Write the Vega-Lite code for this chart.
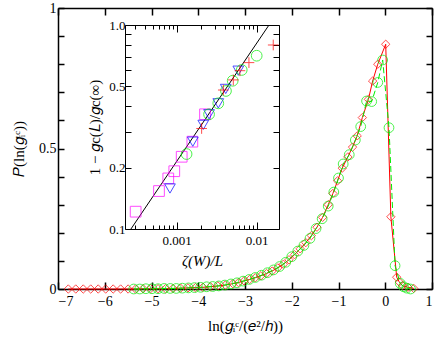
{
  "$schema": "https://vega.github.io/schema/vega-lite/v6.json",
  "width": 374,
  "height": 281,
  "autosize": {"type": "none"},
  "padding": {"left": 58, "top": 8, "right": 4, "bottom": 50},
  "background": "white",
  "config": {
    "view": {"stroke": null},
    "font": "Liberation Serif",
    "axis": {
      "labelFont": "Liberation Serif",
      "titleFont": "Liberation Serif",
      "labelFontSize": 14,
      "titleFontSize": 15,
      "titleFontWeight": "normal",
      "domainColor": "black",
      "tickColor": "black",
      "labelColor": "black",
      "titleColor": "black",
      "grid": false
    }
  },
  "datasets": {
    "main": [
      {"x": -6.78, "P": 0, "s": "r"}, {"x": -6.62, "P": 0, "s": "r"}, {"x": -6.46, "P": 0, "s": "r"}, {"x": -6.30, "P": 0, "s": "r"},
      {"x": -6.14, "P": 0, "s": "r"}, {"x": -5.98, "P": 0, "s": "r"}, {"x": -5.82, "P": 0, "s": "r"}, {"x": -5.66, "P": 0, "s": "r"},
      {"x": -5.50, "P": 0, "s": "r"}, {"x": -5.34, "P": 0, "s": "r"}, {"x": -5.18, "P": 0.001, "s": "r"}, {"x": -5.02, "P": 0.001, "s": "r"},
      {"x": -4.86, "P": 0.001, "s": "r"}, {"x": -4.70, "P": 0.001, "s": "r"}, {"x": -4.54, "P": 0.002, "s": "r"}, {"x": -4.38, "P": 0.003, "s": "r"},
      {"x": -4.22, "P": 0.004, "s": "r"}, {"x": -4.06, "P": 0.005, "s": "r"}, {"x": -3.90, "P": 0.006, "s": "r"}, {"x": -3.74, "P": 0.008, "s": "r"},
      {"x": -3.58, "P": 0.011, "s": "r"}, {"x": -3.42, "P": 0.014, "s": "r"}, {"x": -3.26, "P": 0.019, "s": "r"}, {"x": -3.14, "P": 0.023, "s": "r"},
      {"x": -3.02, "P": 0.029, "s": "r"}, {"x": -2.90, "P": 0.034, "s": "r"}, {"x": -2.78, "P": 0.040, "s": "r"}, {"x": -2.66, "P": 0.047, "s": "r"},
      {"x": -2.54, "P": 0.055, "s": "r"}, {"x": -2.42, "P": 0.064, "s": "r"}, {"x": -2.30, "P": 0.075, "s": "r"}, {"x": -2.18, "P": 0.088, "s": "r"},
      {"x": -2.06, "P": 0.104, "s": "r"}, {"x": -1.94, "P": 0.122, "s": "r"}, {"x": -1.82, "P": 0.143, "s": "r"}, {"x": -1.70, "P": 0.165, "s": "r"},
      {"x": -1.58, "P": 0.19, "s": "r"}, {"x": -1.46, "P": 0.22, "s": "r"}, {"x": -1.34, "P": 0.255, "s": "r"}, {"x": -1.22, "P": 0.30, "s": "r"},
      {"x": -1.12, "P": 0.34, "s": "r"}, {"x": -1.02, "P": 0.385, "s": "r"}, {"x": -0.92, "P": 0.43, "s": "r"}, {"x": -0.80, "P": 0.47, "s": "r"},
      {"x": -0.70, "P": 0.505, "s": "r"}, {"x": -0.60, "P": 0.545, "s": "r"}, {"x": -0.49, "P": 0.61, "s": "r"}, {"x": -0.36, "P": 0.675, "s": "r"},
      {"x": -0.27, "P": 0.74, "s": "r"}, {"x": -0.16, "P": 0.80, "s": "r"}, {"x": 0.01, "P": 0.871, "s": "r"}, {"x": 0.12, "P": 0.257, "s": "r"},
      {"x": 0.245, "P": 0.042, "s": "r"}, {"x": 0.30, "P": 0.025, "s": "r"}, {"x": 0.37, "P": 0.012, "s": "r"}, {"x": 0.49, "P": 0.006, "s": "r"},
      {"x": 0.61, "P": 0.002, "s": "r"},
      {"x": -5.38, "P": 0, "s": "g"}, {"x": -5.25, "P": 0, "s": "g"}, {"x": -5.12, "P": 0.001, "s": "g"}, {"x": -4.99, "P": 0.001, "s": "g"},
      {"x": -4.86, "P": 0.001, "s": "g"}, {"x": -4.73, "P": 0.002, "s": "g"}, {"x": -4.60, "P": 0.002, "s": "g"}, {"x": -4.47, "P": 0.002, "s": "g"},
      {"x": -4.34, "P": 0.003, "s": "g"}, {"x": -4.21, "P": 0.004, "s": "g"}, {"x": -4.08, "P": 0.005, "s": "g"}, {"x": -3.95, "P": 0.006, "s": "g"},
      {"x": -3.82, "P": 0.008, "s": "g"}, {"x": -3.69, "P": 0.009, "s": "g"}, {"x": -3.56, "P": 0.011, "s": "g"}, {"x": -3.43, "P": 0.014, "s": "g"},
      {"x": -3.30, "P": 0.018, "s": "g"}, {"x": -3.17, "P": 0.022, "s": "g"}, {"x": -3.04, "P": 0.028, "s": "g"}, {"x": -2.91, "P": 0.034, "s": "g"},
      {"x": -2.78, "P": 0.041, "s": "g"}, {"x": -2.65, "P": 0.049, "s": "g"}, {"x": -2.52, "P": 0.058, "s": "g"}, {"x": -2.39, "P": 0.068, "s": "g"},
      {"x": -2.26, "P": 0.08, "s": "g"}, {"x": -2.13, "P": 0.095, "s": "g"}, {"x": -2.00, "P": 0.115, "s": "g"}, {"x": -1.87, "P": 0.135, "s": "g"},
      {"x": -1.74, "P": 0.155, "s": "g"}, {"x": -1.61, "P": 0.18, "s": "g"}, {"x": -1.48, "P": 0.215, "s": "g"}, {"x": -1.35, "P": 0.25, "s": "g"},
      {"x": -1.22, "P": 0.295, "s": "g"}, {"x": -1.10, "P": 0.345, "s": "g"}, {"x": -1.00, "P": 0.395, "s": "g"}, {"x": -0.90, "P": 0.445, "s": "g"},
      {"x": -0.77, "P": 0.478, "s": "g"}, {"x": -0.64, "P": 0.53, "s": "g"}, {"x": -0.525, "P": 0.578, "s": "g"}, {"x": -0.40, "P": 0.669, "s": "g"},
      {"x": -0.29, "P": 0.667, "s": "g"}, {"x": -0.16, "P": 0.735, "s": "g"}, {"x": -0.055, "P": 0.815, "s": "g"}, {"x": 0.08, "P": 0.574, "s": "g"},
      {"x": 0.21, "P": 0.083, "s": "g"}, {"x": 0.32, "P": 0.02, "s": "g"}, {"x": 0.39, "P": 0.008, "s": "g"}, {"x": 0.46, "P": 0.003, "s": "g"},
      {"x": 0.54, "P": 0, "s": "g"}
    ],
    "inset": [
      {"z": 0.000307, "v": 0.1216, "set": "sq"}, {"z": 0.000601, "v": 0.1535, "set": "sq"}, {"z": 0.000785, "v": 0.177, "set": "sq"},
      {"z": 0.000933, "v": 0.192, "set": "sq"}, {"z": 0.001155, "v": 0.226, "set": "sq"}, {"z": 0.00157, "v": 0.268, "set": "sq"},
      {"z": 0.00226, "v": 0.365, "set": "sq"},
      {"z": 0.000824, "v": 0.158, "set": "tri"}, {"z": 0.00159, "v": 0.268, "set": "tri"}, {"z": 0.00215, "v": 0.324, "set": "tri"},
      {"z": 0.00254, "v": 0.365, "set": "tri"}, {"z": 0.00331, "v": 0.413, "set": "tri"}, {"z": 0.0041, "v": 0.486, "set": "tri"},
      {"z": 0.00589, "v": 0.597, "set": "tri"},
      {"z": 0.00133, "v": 0.233, "set": "circ"}, {"z": 0.00254, "v": 0.365, "set": "circ"}, {"z": 0.00331, "v": 0.413, "set": "circ"},
      {"z": 0.00413, "v": 0.475, "set": "circ"}, {"z": 0.00501, "v": 0.533, "set": "circ"}, {"z": 0.0065, "v": 0.602, "set": "circ"},
      {"z": 0.01, "v": 0.707, "set": "circ"},
      {"z": 0.00205, "v": 0.311, "set": "plus"}, {"z": 0.00383, "v": 0.48, "set": "plus"}, {"z": 0.0051, "v": 0.538, "set": "plus"},
      {"z": 0.00617, "v": 0.597, "set": "plus"}, {"z": 0.008, "v": 0.654, "set": "plus"}, {"z": 0.0161, "v": 0.798, "set": "plus"}
    ],
    "fit": [
      {"z": 0.000268, "v": 0.1},
      {"z": 0.01425, "v": 1.0}
    ]
  },
  "layer": [
    {
      "layer": [
        {
          "data": {"name": "main"},
          "transform": [{"filter": "datum.s == 'r'"}],
          "mark": {"type": "line", "color": "#ff0000", "strokeWidth": 1},
          "encoding": {
            "x": {
              "field": "x", "type": "quantitative",
              "scale": {"domain": [-7, 1], "nice": false, "zero": false},
              "axis": {
                "orient": "bottom", "values": [-7, -6, -5, -4, -3, -2, -1, 0, 1],
                "tickSize": -7, "tickWidth": 1.5, "domainWidth": 1.5, "labelPadding": 12,
                "title": "ln(𝑔ᵢᶜ/(𝑒²/ℎ))", "titlePadding": 10
              }
            },
            "y": {
              "field": "P", "type": "quantitative",
              "scale": {"domain": [0, 1], "nice": false},
              "axis": {
                "orient": "left", "values": [0, 0.1, 0.2, 0.3, 0.4, 0.5, 0.6, 0.7, 0.8, 0.9, 1],
                "labelExpr": "datum.value == 0 ? '0' : datum.value == 0.5 ? '0.5' : datum.value == 1 ? '1' : ''",
                "tickSize": -6, "tickWidth": 1.5, "domainWidth": 1.5, "labelPadding": 8,
                "title": "𝑃(ln(𝑔ᵢᶜ))", "titlePadding": 12
              }
            }
          }
        },
        {
          "data": {"name": "main"},
          "transform": [{"filter": "datum.s == 'r'"}],
          "mark": {"type": "point", "shape": "diamond", "filled": false, "color": "#ff0000", "size": 70, "strokeWidth": 1},
          "encoding": {
            "x": {"field": "x", "type": "quantitative", "axis": null},
            "y": {"field": "P", "type": "quantitative", "axis": null}
          }
        },
        {
          "data": {"name": "main"},
          "transform": [{"filter": "datum.s == 'g'"}],
          "mark": {"type": "line", "color": "#00ee00", "strokeWidth": 1, "strokeDash": [6, 3]},
          "encoding": {
            "x": {
              "field": "x", "type": "quantitative",
              "axis": {
                "orient": "top", "values": [-7, -6, -5, -4, -3, -2, -1, 0, 1],
                "labels": false, "tickSize": -7, "tickWidth": 1.5, "domainWidth": 1.5, "title": null
              }
            },
            "y": {
              "field": "P", "type": "quantitative",
              "axis": {
                "orient": "right", "values": [0, 0.1, 0.2, 0.3, 0.4, 0.5, 0.6, 0.7, 0.8, 0.9, 1],
                "labels": false, "tickSize": -6, "tickWidth": 1.5, "domainWidth": 1.5, "title": null
              }
            }
          }
        },
        {
          "data": {"name": "main"},
          "transform": [{"filter": "datum.s == 'g'"}],
          "mark": {"type": "point", "shape": "circle", "filled": false, "color": "#00ee00", "size": 95, "strokeWidth": 1},
          "encoding": {
            "x": {"field": "x", "type": "quantitative", "axis": null},
            "y": {"field": "P", "type": "quantitative", "axis": null}
          }
        }
      ],
      "resolve": {"axis": {"x": "independent", "y": "independent"}}
    },
    {
      "layer": [
        {
          "data": {"name": "fit"},
          "mark": {"type": "line", "color": "black", "strokeWidth": 1},
          "encoding": {
            "x": {
              "field": "z", "type": "quantitative",
              "scale": {"type": "log", "domain": [0.000226, 0.019], "range": [67, 221], "nice": false},
              "axis": {
                "orient": "bottom", "offset": -60,
                "values": [0.0003, 0.0004, 0.0005, 0.0006, 0.0007, 0.0008, 0.0009, 0.001, 0.002, 0.003, 0.004, 0.005, 0.006, 0.007, 0.008, 0.009, 0.01],
                "labelExpr": "datum.value == 0.001 ? '0.001' : datum.value == 0.01 ? '0.01' : ''",
                "tickSize": {"condition": {"test": "datum.value == 0.001 || datum.value == 0.01", "value": -7}, "value": -4},
                "labelPadding": 12, "labelFontSize": 13,
                "title": "ζ(W)/L", "titleFontStyle": "italic", "titlePadding": 6
              }
            },
            "y": {
              "field": "v", "type": "quantitative",
              "scale": {"type": "log", "domain": [0.1, 1], "range": [221, 17], "nice": false},
              "axis": {
                "orient": "left", "offset": -67,
                "values": [0.1, 0.2, 0.3, 0.4, 0.5, 0.6, 0.7, 0.8, 0.9, 1],
                "labelExpr": "datum.value == 1 ? '1.0' : datum.value == 0.5 ? '0.5' : datum.value == 0.2 ? '0.2' : datum.value == 0.1 ? '0.1' : ''",
                "tickSize": -6, "labelPadding": 6, "labelFontSize": 13,
                "title": "1 − 𝑔c(𝐿)/𝑔c(∞)", "titlePadding": 6
              }
            }
          }
        },
        {
          "data": {"name": "inset"},
          "mark": {"type": "point", "filled": false, "strokeWidth": 1, "size": 115},
          "encoding": {
            "x": {
              "field": "z", "type": "quantitative",
              "axis": {
                "orient": "top", "offset": -17,
                "values": [0.0003, 0.0004, 0.0005, 0.0006, 0.0007, 0.0008, 0.0009, 0.001, 0.002, 0.003, 0.004, 0.005, 0.006, 0.007, 0.008, 0.009, 0.01],
                "labels": false, "title": null,
                "tickSize": {"condition": {"test": "datum.value == 0.001 || datum.value == 0.01", "value": -7}, "value": -4}
              }
            },
            "y": {
              "field": "v", "type": "quantitative",
              "axis": {
                "orient": "right", "offset": -153,
                "values": [0.1, 0.2, 0.3, 0.4, 0.5, 0.6, 0.7, 0.8, 0.9, 1],
                "labels": false, "title": null, "tickSize": -6
              }
            },
            "shape": {
              "field": "set", "type": "nominal", "legend": null,
              "scale": {"domain": ["sq", "tri", "circ", "plus"], "range": ["square", "triangle-down", "circle", "M-1,0H1M0,-1V1"]}
            },
            "color": {
              "field": "set", "type": "nominal", "legend": null,
              "scale": {"domain": ["sq", "tri", "circ", "plus"], "range": ["#ff00ff", "#0000ff", "#00ee00", "#ff0000"]}
            }
          }
        }
      ],
      "resolve": {"axis": {"x": "independent", "y": "independent"}}
    }
  ],
  "resolve": {"scale": {"x": "independent", "y": "independent", "shape": "independent", "color": "independent"}}
}
